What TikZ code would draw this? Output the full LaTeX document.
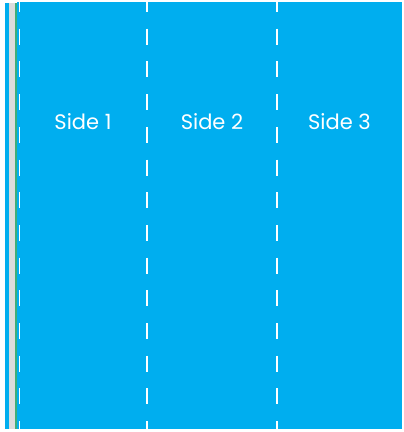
\documentclass[tikz,border=0pt]{standalone}
\usepackage{fontspec}
\setmainfont{Poppins}
\usetikzlibrary{calc}
\definecolor{panelblue}{HTML}{00AEEF}
\definecolor{stripgrey}{HTML}{DCDCDC}
\definecolor{edgegreen}{HTML}{3DAE7A}

\begin{document}
\begin{tikzpicture}[
  x=1pt, y=-1pt,
  fold/.style={white, line width=1.7pt, dash pattern=on 16pt off 16.7pt, dash phase=4pt},
  sidelbl/.style={text=white, anchor=base, font=\fontsize{21}{24}\selectfont},
]
\useasboundingbox[fill=white] (0,0) rectangle (404,432);
% glue strip on the left
\fill[panelblue] (5,3) rectangle (8.5,429);
\fill[stripgrey] (8.5,3) rectangle (15,429);
\fill[edgegreen] (15,3) rectangle (16.6,429);
% the panels
\fill[panelblue] (16.6,2) rectangle (402,429);
\coordinate (f0) at (19,0);
\coordinate (f1) at (147,0);
\coordinate (f2) at (277,0);
\coordinate (f3) at (402,0);
\draw[fold, line width=1pt] (f0) -- ++(0,432);
\draw[fold] (f1) -- ++(0,432);
\draw[fold] (f2) -- ++(0,432);
\node[sidelbl] (side1) at ($(f0)!0.5!(f1)+(0,129)$) {Side 1};
\node[sidelbl] (side2) at ($(f1)!0.5!(f2)+(0,129)$) {Side 2};
\node[sidelbl] (side3) at ($(f2)!0.5!(f3)+(0,129)$) {Side 3};
\end{tikzpicture}
\end{document}
